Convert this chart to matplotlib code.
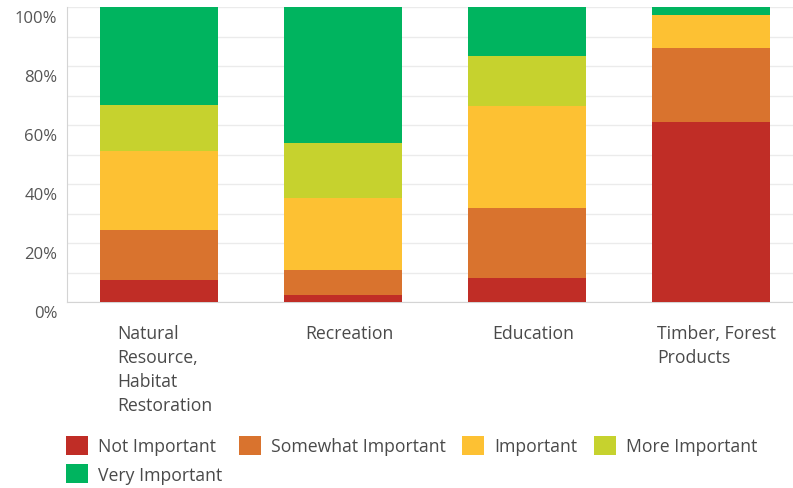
import matplotlib
matplotlib.use('Agg')
import matplotlib.pyplot as plt
import matplotlib.transforms as mtransforms
from matplotlib.patches import FancyBboxPatch, Rectangle
from matplotlib.legend_handler import HandlerPatch
import numpy as np

# values (percent of responses)
categories = ['Natural\nResource,\nHabitat\nRestoration', 'Recreation', 'Education',
              'Timber, Forest\nProducts']
series_names = ['Not Important', 'Somewhat Important', 'Important', 'More Important',
                'Very Important']
not_important = [7.5, 2.4, 8.1, 61.0]
somewhat_important = [17.0, 8.4, 23.9, 25.0]
important = [26.8, 24.4, 34.4, 11.4]
more_important = [15.6, 18.7, 17.0, 0.0]
very_important = [33.1, 46.1, 16.6, 2.6]
colors = ['#c02d26', '#d9732e', '#fdc133', '#c6d22e', '#00b45f']

plt.rcParams['font.family'] = ['Open Sans', 'DejaVu Sans']
FS = 12.7

fig = plt.figure(figsize=(7.93, 4.89), dpi=100)
W, H = 793, 489
ax = fig.add_axes([67 / W, 186 / H, (W - 67) / W, 295 / H])

x = np.arange(len(categories))
bottom = np.zeros(len(categories))
series = [not_important, somewhat_important, important, more_important, very_important]
for name, vals, c in zip(series_names, series, colors):
    ax.bar(x, vals, 0.64, bottom=bottom, color=c, label=name, zorder=3)
    bottom += np.array(vals)

ax.set_xlim(-0.5, 3.446)
ax.set_ylim(0, 100)
ax.set_yticks(np.arange(0, 101, 20))
ax.set_yticks(np.arange(0, 101, 10), minor=True)
ax.set_yticklabels([f'{v}%' for v in range(0, 101, 20)])
ax.grid(axis='y', which='both', color='#ebebeb', lw=1, zorder=0)
ax.tick_params(axis='y', which='both', length=0, pad=7, labelsize=12, labelcolor='#555555')
ax.tick_params(axis='x', length=0, pad=16, labelsize=FS, labelcolor='#4a4a4a')
ax.set_xticks(x)
ax.set_xticklabels(categories, ha='center', multialignment='left', linespacing=1.42, va='top')

for sp in ['top', 'right']:
    ax.spines[sp].set_visible(False)
ax.spines['left'].set_color('#d4d4d4')
ax.spines['bottom'].set_color('#d4d4d4')

# shift tick labels like the reference
for lab in ax.get_yticklabels():
    lab.set_transform(lab.get_transform() + mtransforms.ScaledTranslation(0, -9 / 100, fig.dpi_scale_trans))
for lab in ax.get_xticklabels():
    lab.set_transform(lab.get_transform() + mtransforms.ScaledTranslation(6 / 100, 0, fig.dpi_scale_trans))


class RoundSwatch(HandlerPatch):
    def create_artists(self, legend, orig_handle, xdescent, ydescent, width, height, fontsize, trans):
        p = FancyBboxPatch((-xdescent + 2, -ydescent + 2), width - 4, height - 4,
                           boxstyle='round,pad=2,rounding_size=3',
                           facecolor=orig_handle.get_facecolor(), edgecolor='none',
                           transform=trans)
        return [p]


handles, labels = ax.get_legend_handles_labels()
order = [0, 4, 1, 2, 3]  # legend fills column-wise; this gives row-wise reading
handles = [handles[i] for i in order]
labels = [labels[i] for i in order]
leg = fig.legend(handles, labels, ncol=4, loc='upper left', bbox_to_anchor=(59 / W, 1 - 430 / H),
                 frameon=False, fontsize=FS, handlelength=1.25, handleheight=1.25,
                 handletextpad=0.55, columnspacing=0.95, labelspacing=0.52, borderaxespad=0,
                 handler_map={Rectangle: RoundSwatch()})
for t in leg.get_texts():
    t.set_color('#4a4a4a')

fig.savefig('out.png', dpi=100)
